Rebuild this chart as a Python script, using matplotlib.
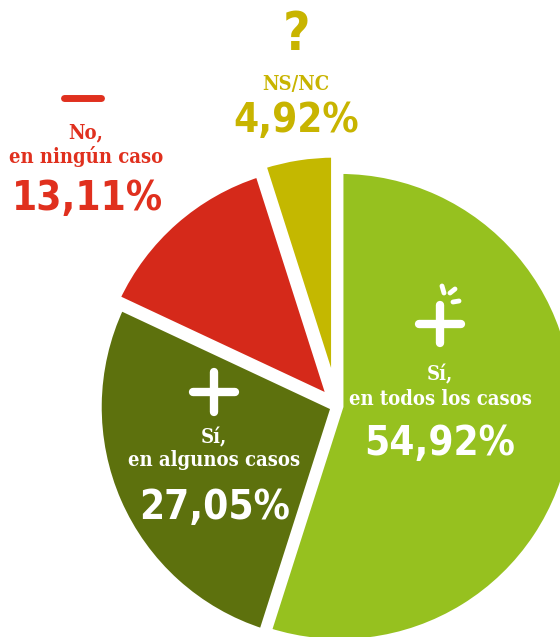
import matplotlib
matplotlib.use('Agg')
import matplotlib.pyplot as plt

W, H = 560, 637

labels = ['Sí,\nen todos los casos', 'Sí,\nen algunos casos', 'No,\nen ningún caso', 'NS/NC']
values = [54.92, 27.05, 13.11, 4.92]
pct_text = ['54,92%', '27,05%', '13,11%', '4,92%']
colors = ['#96C11F', '#5D710D', '#D5291A', '#C4B800']
explode = [3, 3, 10, 16]

fig = plt.figure(figsize=(W / 100, H / 100), dpi=100)
ax = fig.add_axes([0, 0, 1, 1])

ax.pie(values, colors=colors, startangle=90, counterclock=False,
       center=(337, H - 406), radius=236, explode=explode,
       wedgeprops=dict(edgecolor='white', linewidth=5))
ax.set_xlim(0, W)
ax.set_ylim(0, H)
ax.set_aspect('equal')
ax.axis('off')

serif = dict(family='DejaVu Serif', stretch='condensed', weight='bold', ha='center', va='baseline')
sans = dict(family='DejaVu Sans', stretch='condensed', weight='bold', ha='center', va='baseline')

red_txt = '#E0301E'
yel_txt = '#C8B400'
fs_lab = 14.5
fs_pct = 29

# NS/NC
ax.text(296, H - 50, '?', color=yel_txt, fontsize=38, **sans)
ax.text(296, H - 90, 'NS/NC', color=yel_txt, fontsize=fs_lab, **serif)
ax.text(296, H - 132, pct_text[3], color=yel_txt, fontsize=fs_pct, **sans)

# No
ax.plot([64, 101], [H - 98, H - 98], color=red_txt, lw=5, solid_capstyle='round')
ax.text(86, H - 138, 'No,', color=red_txt, fontsize=fs_lab, **serif)
ax.text(86, H - 163, 'en ningún caso', color=red_txt, fontsize=fs_lab, **serif)
ax.text(87, H - 210, pct_text[2], color=red_txt, fontsize=fs_pct, **sans)

# Sí, en todos los casos
cx, cy = 440, H - 324
ax.plot([cx - 21, cx + 21], [cy, cy], color='white', lw=6, solid_capstyle='round')
ax.plot([cx, cx], [cy - 19, cy + 19], color='white', lw=6, solid_capstyle='round')
for (x0, y0), (x1, y1) in [((442, 286), (444, 293)), ((450, 293), (455, 289)), ((453, 302), (459, 301))]:
    ax.plot([x0, x1], [H - y0, H - y1], color='white', lw=3.5, solid_capstyle='round')
ax.text(440, H - 380, 'Sí,', color='white', fontsize=fs_lab, **serif)
ax.text(440, H - 405, 'en todos los casos', color='white', fontsize=fs_lab, **serif)
ax.text(440, H - 455, pct_text[0], color='white', fontsize=fs_pct, **sans)

# Sí, en algunos casos
cx, cy = 214, H - 392
ax.plot([cx - 21, cx + 21], [cy, cy], color='white', lw=6, solid_capstyle='round')
ax.plot([cx, cx], [cy - 20, cy + 20], color='white', lw=6, solid_capstyle='round')
ax.text(214, H - 443, 'Sí,', color='white', fontsize=fs_lab, **serif)
ax.text(214, H - 466, 'en algunos casos', color='white', fontsize=fs_lab, **serif)
ax.text(215, H - 519, pct_text[1], color='white', fontsize=fs_pct, **sans)

plt.savefig('out.png', dpi=100)
